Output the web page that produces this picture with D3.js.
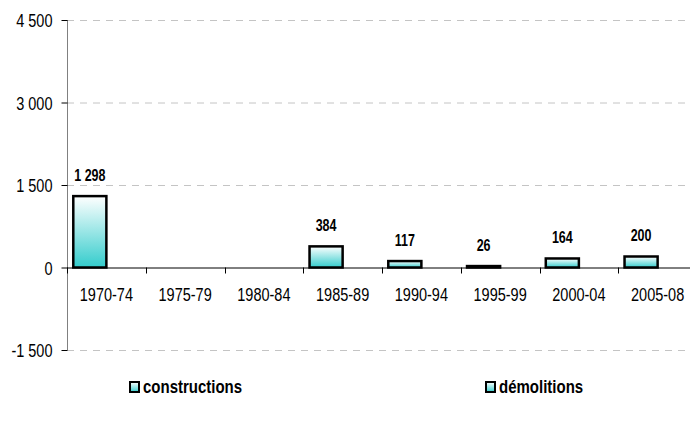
<!DOCTYPE html>
<html>
<head>
<meta charset="utf-8">
<script src="https://cdn.jsdelivr.net/npm/d3@7"></script>
<style>
  html, body { margin: 0; padding: 0; background: #fff; }
</style>
</head>
<body>
<div id="chart"></div>
<script>
// Data
const categories = ["1970-74", "1975-79", "1980-84", "1985-89", "1990-94", "1995-99", "2000-04", "2005-08"];
const constructions = [1298, null, null, 384, 117, 26, 164, 200];
const demolitions = [null, null, null, null, null, null, null, null];
const seriesNames = ["constructions", "démolitions"];
const yTicks = [-1500, 0, 1500, 3000, 4500];

const attrs = {
  svgWidth: 690,
  svgHeight: 427,
  marginLeft: 67,
  marginTop: 20,
  plotRight: 697,
  plotBottom: 350,
  stretch: 1.25, // text in the original looks stretched vertically
  defaultFont: "'Liberation Sans', Arial, Helvetica, sans-serif"
};

const locale = d3.formatLocale({ decimal: ",", thousands: " ", grouping: [3], currency: ["", " €"], minus: "-" });
const fmt = locale.format(",d");

const svg = d3.select("#chart")
  .append("svg")
  .attr("width", attrs.svgWidth)
  .attr("height", attrs.svgHeight)
  .attr("font-family", attrs.defaultFont);

// gradient, white on top to teal at bottom
const grad = svg.append("defs").append("linearGradient")
  .attr("id", "barGrad")
  .attr("x1", 0).attr("y1", 0).attr("x2", 0).attr("y2", 1);
grad.append("stop").attr("offset", "0%").attr("stop-color", "#ffffff");
grad.append("stop").attr("offset", "100%").attr("stop-color", "#33cccc");

// place a text with its baseline at (px, py), stretched vertically
const stretchAt = (px, py) => `translate(${px},${py}) scale(1,${attrs.stretch})`;

// Scales
const x = d3.scaleBand()
  .domain(categories)
  .range([attrs.marginLeft, attrs.plotRight])
  .paddingInner(0).paddingOuter(0);

const xSub = d3.scaleBand()
  .domain(seriesNames)
  .range([0, x.bandwidth()])
  .paddingOuter(0.19);

const y = d3.scaleLinear()
  .domain([-1500, 4500])
  .range([attrs.plotBottom, attrs.marginTop]);

// Gridlines
svg.append("g")
  .selectAll("line")
  .data(yTicks.filter(d => d !== 0))
  .join("line")
  .attr("x1", attrs.marginLeft)
  .attr("x2", attrs.svgWidth)
  .attr("y1", d => y(d) + 0.5)
  .attr("y2", d => y(d) + 0.5)
  .attr("stroke", "#c4c4c4")
  .attr("stroke-dasharray", "7,6");

// Y axis
const yAxis = svg.append("g")
  .attr("transform", `translate(${attrs.marginLeft + 0.5},0)`)
  .call(d3.axisLeft(y).tickValues(yTicks).tickSize(6).tickFormat(fmt));
yAxis.select(".domain").attr("stroke", "#808080").attr("d", `M0,${y(4500)}V${y(-1500)}`);
yAxis.selectAll(".tick line").attr("stroke", "#000");
yAxis.selectAll(".tick text")
  .attr("x", null).attr("y", null).attr("dy", null)
  .attr("transform", stretchAt(-15, 6.5))
  .attr("font-size", 14.5)
  .attr("fill", "#000")
  .attr("font-family", attrs.defaultFont);

// X axis at zero
const xAxis = svg.append("g")
  .attr("transform", `translate(0,${y(0) + 0.5})`)
  .call(d3.axisBottom(x).tickSize(0));
xAxis.select(".domain").attr("stroke", "#000").attr("d", `M${attrs.marginLeft},0H${attrs.svgWidth}`);
xAxis.selectAll(".tick text")
  .attr("y", null).attr("dy", null)
  .attr("transform", stretchAt(0, 32.5))
  .attr("font-size", 14.5)
  .attr("fill", "#000")
  .attr("font-family", attrs.defaultFont);

// band boundary ticks
svg.append("g")
  .selectAll("line")
  .data(categories)
  .join("line")
  .attr("x1", d => Math.round(x(d)) + 0.5)
  .attr("x2", d => Math.round(x(d)) + 0.5)
  .attr("y1", y(0))
  .attr("y2", y(0) + 6)
  .attr("stroke", "#000");

// Bars
const rows = [];
categories.forEach((c, i) => {
  rows.push({ cat: c, series: seriesNames[0], value: constructions[i] });
  rows.push({ cat: c, series: seriesNames[1], value: demolitions[i] });
});
const barData = rows.filter(d => d.value != null);

svg.append("g")
  .selectAll("rect")
  .data(barData)
  .join("rect")
  .attr("x", d => x(d.cat) + xSub(d.series))
  .attr("y", d => y(Math.max(0, d.value)))
  .attr("width", xSub.bandwidth())
  .attr("height", d => Math.abs(y(d.value) - y(0)))
  .attr("fill", "url(#barGrad)")
  .attr("stroke", "#000")
  .attr("stroke-width", 2.5);

// Value labels
svg.append("g")
  .selectAll("text")
  .data(barData)
  .join("text")
  .attr("transform", d => stretchAt(x(d.cat) + xSub(d.series) + xSub.bandwidth() / 2, y(d.value) - 15.5))
  .attr("text-anchor", "middle")
  .attr("font-size", 12.5)
  .attr("font-weight", "bold")
  .text(d => fmt(d.value));

// Legend
const legendX = [129, 485];
const legend = svg.append("g")
  .selectAll("g")
  .data(seriesNames)
  .join("g")
  .attr("transform", (d, i) => `translate(${legendX[i]},381)`);
legend.append("rect")
  .attr("x", 1)
  .attr("y", 1)
  .attr("width", 9)
  .attr("height", 10)
  .attr("fill", "url(#barGrad)")
  .attr("stroke", "#000")
  .attr("stroke-width", 2);
legend.append("text")
  .attr("transform", stretchAt(14, 11.5))
  .attr("font-size", 15)
  .attr("font-weight", "bold")
  .text(d => d);
</script>
</body>
</html>
